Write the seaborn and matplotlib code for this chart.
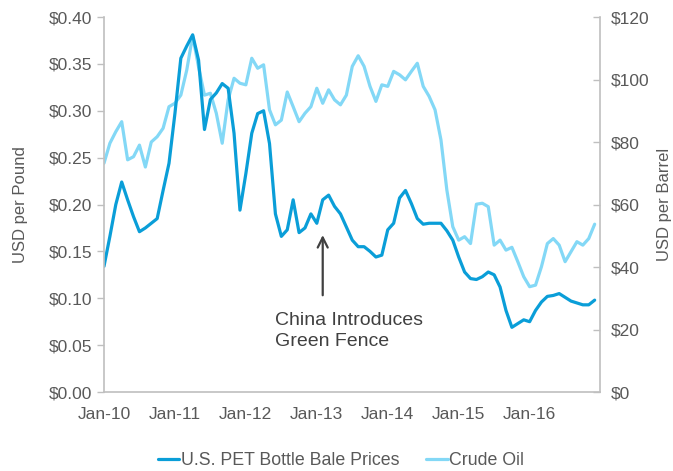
import pandas as pd
import numpy as np
from matplotlib import pyplot as plt
import seaborn as sns

sns.set_style('white')
plt.rcParams['font.family'] = ['Liberation Sans', 'DejaVu Sans']

# Monthly values, Jan-10 .. Dec-16.
pet_prices = [
    0.134, 0.166, 0.200, 0.224, 0.205, 0.187, 0.171, 0.175, 0.180, 0.185, 0.215, 0.244,
    0.297, 0.356, 0.369, 0.381, 0.354, 0.280, 0.312, 0.319, 0.329, 0.324, 0.276, 0.194,
    0.233, 0.276, 0.297, 0.300, 0.265, 0.190, 0.166, 0.173, 0.205, 0.170, 0.175, 0.190,
    0.180, 0.205, 0.210, 0.198, 0.190, 0.176, 0.162, 0.155, 0.155, 0.150, 0.144, 0.146,
    0.173, 0.180, 0.207, 0.215, 0.201, 0.185, 0.179, 0.180, 0.180, 0.180, 0.172, 0.162,
    0.144, 0.128, 0.121, 0.120, 0.123, 0.128, 0.125, 0.112, 0.087, 0.069, 0.073, 0.077,
    0.075, 0.087, 0.096, 0.102, 0.103, 0.105, 0.101, 0.097, 0.095, 0.093, 0.093, 0.098,
]
crude_oil = [
    73.2, 79.6, 83.3, 86.5, 74.3, 75.3, 79.0, 72.0, 80.0, 81.7, 84.4, 91.3,
    92.4, 95.0, 103.0, 114.0, 104.0, 95.0, 95.6, 89.2, 79.6, 93.5, 100.4, 98.8,
    98.3, 106.8, 103.6, 104.7, 90.3, 85.5, 87.0, 96.0, 91.3, 86.5, 89.2, 91.3,
    97.2, 92.4, 96.7, 93.5, 91.9, 95.0, 104.2, 107.6, 104.2, 97.8, 93.0, 98.3,
    97.8, 102.6, 101.5, 99.9, 102.6, 105.2, 97.8, 94.6, 90.3, 80.7, 64.6, 52.9,
    48.6, 49.7, 47.5, 60.1, 60.4, 59.3, 47.0, 48.6, 45.4, 46.3, 41.7, 36.9,
    33.7, 34.2, 40.1, 47.5, 49.1, 47.0, 41.7, 44.9, 48.1, 47.0, 49.1, 53.7,
]
year_labels = ['Jan-10', 'Jan-11', 'Jan-12', 'Jan-13', 'Jan-14', 'Jan-15', 'Jan-16']
pound_ticks = [0.0, 0.05, 0.10, 0.15, 0.20, 0.25, 0.30, 0.35, 0.40]
barrel_ticks = [0, 20, 40, 60, 80, 100, 120]

df = pd.DataFrame({'month': np.arange(len(pet_prices)), 'pet': pet_prices, 'crude': crude_oil})

DARK = '#0a9ed8'
LIGHT = '#83d8f6'
GRID = '#bfbfbf'
TXT = '#595959'

fig = plt.figure(figsize=(6.73, 4.71), dpi=100)
ax = fig.add_axes([0.1545, 0.1677, 0.737, 0.7962])
ax2 = ax.twinx()

sns.lineplot(data=df, x='month', y='crude', ax=ax2, color=LIGHT, lw=2.3, label='Crude Oil',
             solid_joinstyle='round')
sns.lineplot(data=df, x='month', y='pet', ax=ax, color=DARK, lw=2.3, label='U.S. PET Bottle Bale Prices',
             solid_joinstyle='round')

# keep the PET line drawn above the oil line
ax.set_zorder(ax2.get_zorder() + 1)
ax.patch.set_visible(False)

ax.set_xlim(0, 83.9)
ax.set_ylim(0, 0.40)
ax2.set_ylim(0, 120)

ax.set_xticks(range(0, 84, 12))
ax.set_xticklabels(year_labels)
ax.set_yticks(pound_ticks)
ax.set_yticklabels([f'${v:.2f}' for v in pound_ticks])
ax2.set_yticks(barrel_ticks)
ax2.set_yticklabels([f'${v}' for v in barrel_ticks])

for a in (ax, ax2):
    a.spines['top'].set_visible(False)
    for s in a.spines.values():
        s.set_color(GRID)
        s.set_linewidth(1.2)
    a.set_xlabel('')
ax.spines['right'].set_visible(False)
ax2.spines['left'].set_visible(False)
ax2.spines['bottom'].set_visible(False)

ax.tick_params(axis='both', colors=GRID, labelcolor=TXT, labelsize=12.5, length=5, width=1, direction='out')
ax.tick_params(axis='x', pad=6)
ax2.tick_params(axis='y', colors=GRID, labelcolor=TXT, labelsize=12.5, length=5, width=1,
                direction='in', right=True, pad=8)

ax.set_ylabel('USD per Pound', fontsize=12, color=TXT, labelpad=15)
ax2.set_ylabel('USD per Barrel', fontsize=12, color=TXT, labelpad=5)

ax.annotate('', xy=(37.0, 0.1674), xytext=(37.0, 0.1032),
            arrowprops=dict(arrowstyle='->', color='#404040', lw=1.6, mutation_scale=18,
                            shrinkA=0, shrinkB=0))
ax.text(29.0, 0.085, 'China Introduces\nGreen Fence', fontsize=14, color='#404040',
        va='top', ha='left', linespacing=1.27)

h1, l1 = ax.get_legend_handles_labels()
h2, l2 = ax2.get_legend_handles_labels()
ax.get_legend().remove()
ax2.get_legend().remove()
fig.legend(h1 + h2, l1 + l2, loc='lower center', bbox_to_anchor=(0.507, -0.03), ncol=2,
           frameon=False, fontsize=12.8, handlelength=1.2, handletextpad=0.1,
           columnspacing=1.5, labelcolor=TXT)

fig.savefig('out.png', dpi=100)
